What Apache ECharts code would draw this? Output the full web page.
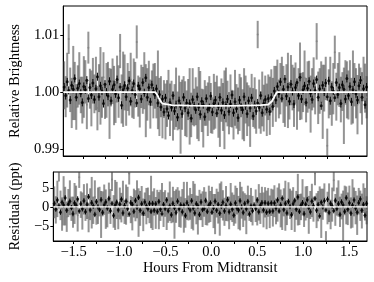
<!DOCTYPE html>
<html>
<head>
<meta charset="utf-8">
<script src="https://cdn.jsdelivr.net/npm/echarts@6/dist/echarts.min.js"></script>
<style>
html,body{margin:0;padding:0;background:#fff;}
#chart{width:374px;height:282px;}
</style>
</head>
<body>
<div id="chart"></div>
<script>
// Time (hours from midtransit) of each exposure
const times = [-1.710,-1.693,-1.676,-1.659,-1.642,-1.625,-1.608,-1.591,-1.574,-1.557,
-1.540,-1.523,-1.506,-1.489,-1.472,-1.455,-1.438,-1.421,-1.404,-1.387,
-1.370,-1.353,-1.336,-1.319,-1.302,-1.285,-1.268,-1.251,-1.234,-1.217,
-1.200,-1.183,-1.166,-1.149,-1.132,-1.115,-1.098,-1.081,-1.064,-1.047,
-1.030,-1.013,-0.996,-0.979,-0.962,-0.945,-0.928,-0.911,-0.894,-0.877,
-0.860,-0.843,-0.826,-0.809,-0.792,-0.775,-0.758,-0.741,-0.724,-0.707,
-0.690,-0.673,-0.656,-0.639,-0.622,-0.605,-0.588,-0.571,-0.554,-0.537,
-0.520,-0.503,-0.486,-0.469,-0.452,-0.435,-0.418,-0.401,-0.384,-0.367,
-0.350,-0.333,-0.316,-0.299,-0.282,-0.265,-0.248,-0.231,-0.214,-0.197,
-0.180,-0.163,-0.146,-0.129,-0.112,-0.095,-0.078,-0.061,-0.044,-0.027,
-0.010,0.007,0.024,0.041,0.058,0.075,0.092,0.109,0.126,0.143,
0.160,0.177,0.194,0.211,0.228,0.245,0.262,0.279,0.296,0.313,
0.330,0.347,0.364,0.381,0.398,0.415,0.432,0.449,0.466,0.483,
0.500,0.517,0.534,0.551,0.568,0.585,0.602,0.619,0.636,0.653,
0.670,0.687,0.704,0.721,0.738,0.755,0.772,0.789,0.806,0.823,
0.840,0.857,0.874,0.891,0.908,0.925,0.942,0.959,0.976,0.993,
1.010,1.027,1.044,1.061,1.078,1.095,1.112,1.129,1.146,1.163,
1.180,1.197,1.214,1.231,1.248,1.265,1.282,1.299,1.316,1.333,
1.350,1.367,1.384,1.401,1.418,1.435,1.452,1.469,1.486,1.503,
1.520,1.537,1.554,1.571,1.588,1.605,1.622,1.639,1.656,1.673,1.690];

// Unbinned (gray) relative brightness, ppt offset from 1
const grayFlux = [1.2,-0.8,2.1,9.3,0.4,-1.9,1.6,0.2,-2.6,1.0,
2.4,-0.5,-1.4,0.9,1.8,-2.2,7.8,0.6,-1.1,2.0,
-0.3,1.5,-2.8,0.7,1.1,-0.9,2.6,-1.6,0.3,1.4,
-2.0,0.8,1.9,-0.6,-1.7,2.3,0.1,7.2,-1.2,0.5,
1.7,-2.4,0.9,-0.2,2.2,-1.3,0.6,1.3,8.8,-0.7,
-1.8,1.0,0.3,2.0,-1.5,-0.4,1.6,-2.1,0.7,0.2,
1.1,-0.9,0.4,-2.6,-0.8,-3.9,-1.2,-3.4,-2.0,0.1,
-3.1,-1.5,-4.2,-2.6,-0.9,-3.3,-1.8,-4.5,-2.2,-0.4,
-2.9,-3.8,-1.3,-2.5,-4.0,-0.8,-2.7,-1.6,-3.6,-2.1,
-0.6,-3.2,-4.6,-1.9,-2.4,-3.0,-1.1,-2.8,-4.1,-1.7,
-2.3,-0.7,-3.5,-4.3,-1.4,-2.6,-3.1,-0.5,-2.0,-3.7,
-1.5,-2.9,-4.0,-1.0,-2.5,-3.3,-1.8,-0.9,-3.9,-2.2,
-1.3,-3.0,-2.4,-4.4,-0.8,-2.7,-1.9,-3.4,10.1,-2.1,
-3.6,-1.2,-2.8,-0.6,-3.1,-0.9,-2.4,0.2,-1.8,1.0,
-0.3,1.5,-1.2,0.6,2.3,-0.4,-2.0,1.2,0.3,-1.5,
2.1,0.8,-0.9,1.6,-2.3,0.4,1.9,-0.7,0.0,2.5,
-1.4,0.9,1.3,-2.1,0.5,1.7,-0.6,8.9,-1.0,0.2,
1.8,-1.7,0.7,2.4,-9.4,-0.3,1.1,-2.0,0.6,7.0,
-0.8,1.4,2.2,-1.3,0.1,-2.4,1.7,0.4,-0.5,2.0,
-1.6,0.9,1.3,-0.2,-2.2,1.5,0.3,-1.1,2.3,0.7,-0.9];

// Unbinned (gray) residuals, ppt
const grayResid = [1.2,-0.8,2.1,9.3,0.4,-1.9,1.6,0.2,-2.6,1.0,
2.4,-0.5,-1.4,0.9,1.8,-2.2,7.8,0.6,-1.1,2.0,
-0.3,1.5,-2.8,0.7,1.1,-0.9,2.6,-1.6,0.3,1.4,
-2.0,0.8,1.9,-0.6,-1.7,2.3,0.1,7.2,-1.2,0.5,
1.7,-2.4,0.9,-0.2,2.2,-1.3,0.6,1.3,8.8,-0.7,
-1.8,1.0,0.3,2.0,-1.5,-0.4,1.6,-2.1,0.7,0.2,
1.1,-0.6,1.3,-1.0,1.3,-1.6,1.2,-1.0,0.4,2.5,
-0.7,0.9,-1.8,-0.2,1.5,-0.9,0.6,-2.1,0.2,2.0,
-0.5,-1.4,1.1,-0.1,-1.6,1.6,-0.3,0.8,-1.2,0.3,
1.8,-0.8,-2.2,0.5,0.0,-0.6,1.3,-0.4,-1.7,0.7,
0.1,1.7,-1.1,-1.9,1.0,-0.2,-0.7,1.9,0.4,-1.3,
0.9,-0.5,-1.6,1.4,-0.1,-0.9,0.6,1.5,-1.5,0.2,
1.1,-0.6,0.0,-2.0,1.6,-0.3,0.5,-1.0,12.5,0.3,
-1.2,1.2,-0.4,1.8,-0.8,1.2,-0.8,1.2,-1.3,1.2,
-0.3,1.5,-1.2,0.6,2.3,-0.4,-2.0,1.2,0.3,-1.5,
2.1,0.8,-0.9,1.6,-2.3,0.4,1.9,-0.7,0.0,2.5,
-1.4,0.9,1.3,-2.1,0.5,1.7,-0.6,8.9,-1.0,0.2,
1.8,-1.7,0.7,2.4,-9.4,-0.3,1.1,-2.0,0.6,7.0,
-0.8,1.4,2.2,-1.3,0.1,-2.4,1.7,0.4,-0.5,2.0,
-1.6,0.9,1.3,-0.2,-2.2,1.5,0.3,-1.1,2.3,0.7,-0.9];

// Unbinned (gray) 1-sigma uncertainties, ppt
const grayErr = [4.2,3.6,4.8,2.6,3.9,4.4,6.5,5.1,4.0,3.7,
4.6,3.2,4.1,5.4,3.8,4.3,2.8,3.5,4.9,4.0,
3.4,4.7,3.9,4.2,6.8,3.6,4.4,3.1,4.8,3.9,
6.2,3.3,4.0,5.2,3.7,4.1,4.6,3.0,4.3,6.6,
4.9,3.5,4.2,3.9,4.7,3.2,5.3,4.0,2.9,3.6,
4.4,3.8,4.1,5.0,6.4,4.6,3.9,4.3,3.1,4.8,
4.0,3.7,6.9,5.1,3.6,4.2,3.3,4.9,4.1,3.8,
4.6,3.5,4.3,4.0,5.2,3.4,4.7,6.3,4.4,3.2,
4.8,4.1,3.6,6.7,3.9,5.0,3.3,4.2,4.6,6.5,
4.3,3.8,5.1,4.0,3.5,4.7,3.9,4.4,3.2,4.9,
4.1,3.6,4.5,5.3,3.8,4.2,6.9,4.8,4.0,3.7,
4.6,3.3,4.3,4.9,3.9,4.1,5.0,3.5,4.4,6.4,
4.2,4.7,3.6,5.2,4.0,3.4,4.5,3.9,2.4,4.3,
3.7,4.8,4.1,3.5,4.6,4.0,5.1,3.8,4.3,3.6,
4.9,4.2,3.4,4.5,3.9,5.0,4.1,3.7,6.6,3.3,
4.4,4.0,5.2,3.6,4.3,3.8,6.8,4.1,3.5,4.8,
3.9,4.5,4.2,5.0,3.7,4.4,3.3,3.2,4.6,4.0,
3.6,6.5,4.1,3.8,3.0,4.3,5.1,3.9,4.5,2.9,
4.2,3.7,4.8,4.0,3.4,6.7,3.9,5.0,4.3,3.6,
4.1,6.4,3.8,4.4,5.2,3.5,4.0,4.6,3.9,4.3,3.7];

// Second (black) light curve, ppt offset from 1
const blackFlux = [0.9,-0.6,1.8,0.3,-1.4,1.2,0.5,2.4,-0.9,0.7,
1.5,-0.2,-1.8,1.0,0.4,2.1,-1.1,0.8,-0.5,1.6,
-1.3,0.6,2.7,-0.8,1.1,0.2,-2.0,1.4,0.0,-0.7,
1.9,-1.5,0.5,1.3,-0.3,2.2,-1.0,0.9,-2.3,0.4,
1.2,-0.8,0.7,2.0,-1.6,0.3,1.5,-0.4,-1.9,1.1,
0.6,-1.2,1.7,-0.1,2.5,-0.9,0.8,-1.7,1.3,0.2,
-0.5,0.6,-1.9,-0.4,-2.6,-1.2,-3.5,-1.0,-2.9,-4.1,
-1.8,-2.7,-0.6,-3.3,-2.2,-4.4,-1.5,-2.5,-3.8,-0.9,
-2.8,-1.9,-3.6,-2.0,-4.6,-1.3,-2.4,-3.1,-0.8,-2.6,
-3.9,-1.6,-2.2,-4.3,-1.1,-3.0,-2.7,-0.7,-3.5,-2.0,
-1.4,-3.7,-2.5,-0.9,-3.2,-1.8,-4.0,-2.3,-1.2,-3.4,
-2.1,-0.5,-3.6,-1.7,-2.9,-4.5,-1.4,-2.6,-3.1,-0.8,
-2.4,-3.8,-1.5,-2.8,-1.0,-4.2,-2.2,-3.3,-1.9,-2.7,
-0.6,-3.6,-2.0,-1.3,-3.0,-1.1,-3.4,-0.9,-2.5,0.2,
-1.4,1.0,-0.3,1.8,-1.1,0.5,2.3,-0.7,0.9,-1.6,
1.4,0.1,-2.1,0.8,1.7,-0.6,2.6,-1.2,0.4,1.1,
-1.8,0.7,1.9,-0.2,-1.3,1.5,0.3,2.2,-0.9,0.6,
-2.4,1.2,0.0,1.6,-0.8,2.0,-1.5,0.9,0.2,-1.0,
1.7,-0.4,0.8,-2.0,1.3,0.5,-1.2,2.4,-0.6,1.0,
-1.7,0.4,1.8,-0.3,-1.4,1.1,2.1,-0.9,0.6,-2.2,0.9];

// Second (black) light curve residuals, ppt
const blackResid = [0.9,-0.6,1.8,0.3,-1.4,1.2,0.5,2.4,-0.9,0.7,
1.5,-0.2,-1.8,1.0,0.4,2.1,-1.1,0.8,-0.5,1.6,
-1.3,0.6,2.7,-0.8,1.1,0.2,-2.0,1.4,0.0,-0.7,
1.9,-1.5,0.5,1.3,-0.3,2.2,-1.0,0.9,-2.3,0.4,
1.2,-0.8,0.7,2.0,-1.6,0.3,1.5,-0.4,-1.9,1.1,
0.6,-1.2,1.7,-0.1,2.5,-0.9,0.8,-1.7,1.3,0.2,
-0.5,0.9,-1.2,0.9,-0.9,0.8,-1.2,1.4,-0.6,-1.8,
0.6,-0.4,1.8,-1.0,0.2,-2.1,0.9,-0.2,-1.5,1.5,
-0.5,0.5,-1.3,0.4,-2.3,1.1,0.0,-0.8,1.6,-0.3,
-1.6,0.8,0.2,-2.0,1.3,-0.7,-0.4,1.7,-1.2,0.4,
1.0,-1.4,-0.2,1.5,-0.9,0.6,-1.7,0.1,1.2,-1.1,
0.3,1.9,-1.3,0.7,-0.6,-2.2,1.0,-0.3,-0.8,1.6,
0.0,-1.5,0.9,-0.5,1.4,-1.9,0.2,-1.0,0.5,-0.4,
1.8,-1.3,0.4,1.1,-0.8,1.1,-1.4,0.9,-1.2,1.0,
-1.1,1.0,-0.3,1.8,-1.1,0.5,2.3,-0.7,0.9,-1.6,
1.4,0.1,-2.1,0.8,1.7,-0.6,2.6,-1.2,0.4,1.1,
-1.8,0.7,1.9,-0.2,-1.3,1.5,0.3,2.2,-0.9,0.6,
-2.4,1.2,0.0,1.6,-0.8,2.0,-1.5,0.9,0.2,-1.0,
1.7,-0.4,0.8,-2.0,1.3,0.5,-1.2,2.4,-0.6,1.0,
-1.7,0.4,1.8,-0.3,-1.4,1.1,2.1,-0.9,0.6,-2.2,0.9];

// Black light curve 1-sigma uncertainty, ppt
const blackErr = 0.7;

// Transit model (white curve)
const modelTime = [-1.72,-0.685,-0.665,-0.645,-0.625,-0.605,-0.585,-0.5,-0.3,0,0.3,0.5,0.585,0.605,0.625,0.645,0.665,0.685,1.70];
const modelFlux = [1,1,0.99955,0.99895,0.9984,0.998,0.99782,0.99772,0.99764,0.9976,0.99764,0.99772,0.99782,0.998,0.9984,0.99895,0.99955,1,1];

// Axis ticks and labels
const xTicks = [-1.5,-1.25,-1,-0.75,-0.5,-0.25,0,0.25,0.5,0.75,1,1.25,1.5];
const xLabels = [-1.5,-1,-0.5,0,0.5,1,1.5];
const fluxLabels = [0.99,1.00,1.01];
const residLabels = [-5,0,5];

const FONT = 'Liberation Serif';
const FS = 14.5;
const minus = s => s.replace('-', '\u2212');

const chart = echarts.init(document.getElementById('chart'), null, {renderer:'canvas'});

function barRender(color, width){
  return function(params, api){
    const p1 = api.coord([api.value(0), api.value(1)]);
    const p2 = api.coord([api.value(0), api.value(2)]);
    return {type:'line', shape:{x1:p1[0], y1:p1[1], x2:p2[0], y2:p2[1]},
            style:{stroke:color, lineWidth:width}};
  };
}

const grayBarsTop = times.map((t,i)=>[t, 1+(grayFlux[i]-grayErr[i])/1000, 1+(grayFlux[i]+grayErr[i])/1000]);
const grayPtsTop = times.map((t,i)=>[t, 1+grayFlux[i]/1000]);
const blackBarsTop = times.map((t,i)=>[t, 1+(blackFlux[i]-blackErr)/1000, 1+(blackFlux[i]+blackErr)/1000]);
const blackPtsTop = times.map((t,i)=>[t, 1+blackFlux[i]/1000]);
const grayBarsRes = times.map((t,i)=>[t, grayResid[i]-grayErr[i], grayResid[i]+grayErr[i]]);
const grayPtsRes = times.map((t,i)=>[t, grayResid[i]]);
const blackBarsRes = times.map((t,i)=>[t, blackResid[i]-blackErr, blackResid[i]+blackErr]);
const blackPtsRes = times.map((t,i)=>[t, blackResid[i]]);
const modelData = modelTime.map((t,i)=>[t, modelFlux[i]]);

const GRAY_BAR = 'rgba(64,64,64,0.56)';
const GRAY_W = 2.0;
const GRAY_PT = '#808080';

function xAxisCfg(idx, showLabels){
  return {
    gridIndex: idx, type:'value', min:-1.72, max:1.695,
    axisLine:{show:true, onZero:false, lineStyle:{color:'#000', width:1}},
    axisTick:{show:true, inside:false, length:3, customValues:xTicks, lineStyle:{color:'#000', width:1}},
    axisLabel: showLabels ? {show:true, customValues:xLabels, margin:4, color:'#000', fontFamily:FONT, fontSize:FS,
      formatter: v => minus(Number(v).toFixed(1))} : {show:false},
    splitLine:{show:false},
    name: showLabels ? 'Hours From Midtransit' : '',
    nameLocation:'middle', nameGap:20,
    nameTextStyle:{color:'#000', fontFamily:FONT, fontSize:FS}
  };
}

const option = {
  animation:false,
  backgroundColor:'#fff',
  grid:[
    {left:52, top:6, width:315, height:150, show:true, borderColor:'#000', borderWidth:1, backgroundColor:'transparent'},
    {left:52, top:172, width:315, height:69, show:true, borderColor:'#000', borderWidth:1, backgroundColor:'transparent'}
  ],
  xAxis:[xAxisCfg(0,false), xAxisCfg(1,true)],
  yAxis:[
    {gridIndex:0, type:'value', min:0.9888, max:1.0151,
     axisLine:{show:true, onZero:false, lineStyle:{color:'#000'}},
     axisTick:{show:true, inside:false, length:3, customValues:fluxLabels, lineStyle:{color:'#000'}},
     axisLabel:{show:true, customValues:fluxLabels, margin:4, color:'#000', fontFamily:FONT, fontSize:FS,
       formatter: v => Number(v).toFixed(2)},
     splitLine:{show:false},
     name:'Relative Brightness', nameLocation:'middle', nameGap:30, nameRotate:90,
     nameTextStyle:{color:'#000', fontFamily:FONT, fontSize:FS}},
    {gridIndex:1, type:'value', min:-9, max:9.2,
     axisLine:{show:true, onZero:false, lineStyle:{color:'#000'}},
     axisTick:{show:true, inside:false, length:3, customValues:residLabels, lineStyle:{color:'#000'}},
     axisLabel:{show:true, customValues:residLabels, margin:4, color:'#000', fontFamily:FONT, fontSize:FS,
       formatter: v => minus(String(v))},
     splitLine:{show:false},
     name:'Residuals (ppt)', nameLocation:'middle', nameGap:30, nameRotate:90,
     nameTextStyle:{color:'#000', fontFamily:FONT, fontSize:FS}}
  ],
  series:[
    {type:'custom', xAxisIndex:0, yAxisIndex:0, clip:true, data:grayBarsTop, renderItem:barRender(GRAY_BAR, GRAY_W), silent:true, z:1},
    {type:'scatter', xAxisIndex:0, yAxisIndex:0, clip:true, data:grayPtsTop, symbol:'circle', symbolSize:2, itemStyle:{color:GRAY_PT}, silent:true, z:2},
    {type:'custom', xAxisIndex:0, yAxisIndex:0, clip:true, data:blackBarsTop, renderItem:barRender('#000', 1), silent:true, z:3},
    {type:'scatter', xAxisIndex:0, yAxisIndex:0, clip:true, data:blackPtsTop, symbol:'circle', symbolSize:3, itemStyle:{color:'#000'}, silent:true, z:4},
    {type:'line', xAxisIndex:0, yAxisIndex:0, data:modelData, showSymbol:false, smooth:false, lineStyle:{color:'#fff', width:1.8}, silent:true, z:5},

    {type:'custom', xAxisIndex:1, yAxisIndex:1, clip:true, data:grayBarsRes, renderItem:barRender(GRAY_BAR, GRAY_W), silent:true, z:1},
    {type:'scatter', xAxisIndex:1, yAxisIndex:1, clip:true, data:grayPtsRes, symbol:'circle', symbolSize:2, itemStyle:{color:GRAY_PT}, silent:true, z:2},
    {type:'custom', xAxisIndex:1, yAxisIndex:1, clip:true, data:blackBarsRes, renderItem:barRender('#000', 1), silent:true, z:3},
    {type:'scatter', xAxisIndex:1, yAxisIndex:1, clip:true, data:blackPtsRes, symbol:'circle', symbolSize:3, itemStyle:{color:'#000'}, silent:true, z:4},
    {type:'line', xAxisIndex:1, yAxisIndex:1, data:[[modelTime[0],0],[modelTime[modelTime.length-1],0]], showSymbol:false, lineStyle:{color:'#fff', width:1.4}, silent:true, z:5}
  ]
};
chart.setOption(option);
</script>
</body>
</html>
